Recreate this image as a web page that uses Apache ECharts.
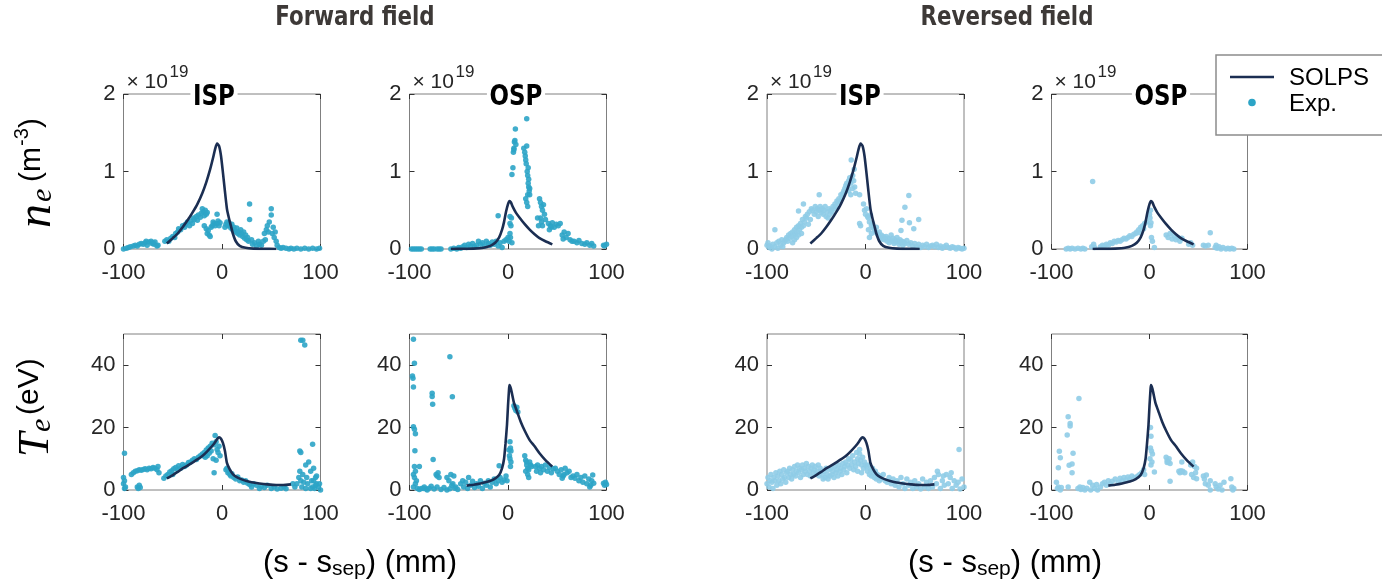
<!DOCTYPE html>
<html><head><meta charset="utf-8">
<script src="https://cdn.jsdelivr.net/npm/echarts@6/dist/echarts.min.js"></script>
<style>html,body{margin:0;padding:0;background:#fff}#c{width:1382px;height:583px}</style>
</head><body><div id="c"></div>
<script>
// ---------- ticks ----------
const xTicks = [-100, 0, 100];
const neTicks = [0, 1, 2];
const teTicks = [0, 20, 40];
const teMax = 50;

// ---------- SOLPS curves (same in both field directions) ----------
const solpsIspNeX = [-56,-50,-45,-40,-35,-30,-25,-20,-16,-12,-9,-7,-5,-3,-1,1,3,5,7,9,11,14,18,24,32,42,55];
const solpsIspNe  = [0.07,0.14,0.2,0.28,0.37,0.47,0.58,0.72,0.86,1.03,1.18,1.29,1.36,1.33,1.2,0.98,0.74,0.52,0.4,0.3,0.2,0.1,0.04,0.015,0.005,0.002,0];
const solpsOspNeX = [-58,-45,-35,-25,-18,-13,-9,-6,-4,-2,0,1.5,3,5,8,12,17,22,27,32,38,45];
const solpsOspNe  = [0,0.002,0.005,0.015,0.04,0.08,0.15,0.25,0.35,0.48,0.58,0.62,0.6,0.54,0.47,0.4,0.32,0.25,0.19,0.14,0.1,0.06];
const solpsIspTeX = [-56,-50,-45,-40,-35,-30,-25,-20,-15,-10,-7,-5,-3,-1,1,3,5,8,11,15,20,25,30,38,46,55,62,70];
const solpsIspTe  = [3.7,4.8,5.8,6.9,7.8,8.8,9.8,10.9,12.4,14.1,15.3,16.3,16.9,16.4,15,12.5,8.7,6.5,5.1,4.1,3.4,2.9,2.5,2.1,1.8,1.6,1.6,1.8];
const solpsOspTeX = [-42,-35,-28,-20,-14,-9,-6,-4,-2.5,-1,0,1,1.5,3,6,9,13,17,22,27,32,38,45];
const solpsOspTe  = [1.4,1.7,2.1,2.7,3.5,4.8,7,10,15,21,27,32,33.6,32.4,28,25.3,21.8,19,16,14,11.8,9.6,7.5];

// ---------- Experimental points: forward field ----------
const ffIspNe = [[-100,0],[-97,0.01],[-95,0.02],[-93,0.03],[-90,0.04],[-88,0.05],[-86,0.04],[-84,0.06],[-82,0.07],[-80,0.06],[-78,0.08],[-77,0.1],[-76,0.05],[-74,0.09],[-72,0.1],[-71,0.07],[-70,0.08],[-69,0.06],[-68,0.09],[-66,0.04],[-65,0.05],
[-58,0.1],[-56,0.12],[-54,0.1],[-52,0.14],[-50,0.16],[-48,0.15],[-47,0.2],[-45,0.22],[-44,0.26],[-42,0.25],[-40,0.3],[-38,0.28],[-37,0.32],[-35,0.35],[-33,0.3],[-32,0.36],[-30,0.33],[-29,0.4],[-28,0.38],[-26,0.42],[-25,0.37],[-24,0.44],[-22,0.41],[-21,0.46],[-20,0.52],[-19,0.48],[-18,0.43],[-17,0.5],[-16,0.45],[-15,0.47],
[-18,0.3],[-16,0.26],[-15,0.2],[-14,0.24],[-13,0.18],[-12,0.16],[-11,0.28],[-10,0.3],[-9,0.35],[-8,0.33],[-7,0.3],[-5,0.45],[-5,0.33],[-4,0.36],[-3,0.3],[-2,0.34],
[3,0.28],[4,0.32],[5,0.35],[6,0.3],[7,0.34],[8,0.3],[9,0.27],[10,0.32],[11,0.25],[12,0.28],[13,0.24],[14,0.22],[15,0.27],[16,0.2],[17,0.22],[18,0.18],[19,0.25],[20,0.2],[21,0.16],[22,0.22],[23,0.14],[24,0.18],[25,0.12],[26,0.15],[27,0.1],[28,0.38],[28,0.58],[30,0.12],[31,0.06],[33,0.08],[35,0.04],[37,0.1],[38,0.06],[40,0.05],[42,0.1],[43,0.2],[44,0.12],[45,0.25],[46,0.3],[47,0.22],[48,0.35],[50,0.44],[50,0.52],[51,0.2],[52,0.28],[53,0.15],[54,0.22],[55,0.1],[56,0.05],[58,0.02],[60,0.01],[62,0.02],[65,0.01],[68,0],[70,0.01],[73,0],[76,0.01],[80,0],[84,0.01],[88,0],[92,0.01],[96,0],[99,0.01]];

const ffIspTe = [[-99,11.8],[-100,4],[-99,3],[-100,2],[-98,1],[-99,0.5],
[-92,5],[-90,5.5],[-88,6],[-86,6.2],[-84,6.5],[-82,6.3],[-80,6.6],[-78,6.8],[-76,6.5],[-74,7],[-72,6.8],[-70,7.2],[-68,7],[-66,6.5],[-65,7.5],[-64,5.5],
[-86,1],[-85,0.5],[-84,1.5],[-83,0.8],
[-59,3.8],[-57,4.5],[-55,5],[-53,5.8],[-51,6.2],[-50,5],[-49,6.8],[-47,7.2],[-45,6.5],[-44,7.8],[-42,7],[-40,8.2],[-38,7.5],[-36,8],[-34,8.8],
[-32,9],[-30,9.5],[-28,10],[-26,9.8],[-24,10.5],[-22,11],[-20,11.5],[-18,12],[-16,12.8],[-14,13.5],[-12,14],[-10,15],[-8,14.5],[-7,17.5],[-6,15.5],[-5,13],[-4,12],[-3,14],[-2,11],[-9,10],[-8,5.5],[-6,9.5],[-11,12.5],[-13,11.8],[-15,11],[-17,10.5],[-19,11],
[4,6.5],[5,7],[6,5.5],[7,6],[8,5],[9,4.5],[10,5.2],[12,4],[14,3.5],[16,4.2],[18,3],[20,3.2],[22,2.5],[24,3],[26,2.2],[28,1.8],[30,1],[32,2],[35,1.5],[38,0.5],[40,1.2],[43,0.8],[46,1.5],[50,0.5],[53,1],[56,0.3],[60,0.6],[63,1],[65,0.4],
[72,2],[74,1],[76,2],[78,4],[79,6],[80,3],[81,1],[82,5],[83,2.5],[79,12.5],[80,12],[85,0.5],[86,4],[87,2],[88,9],[90,6],[91,3],[92,1],[93,7],[94,0.5],[95,4],[96,2],[92,14.7],[98,1],[96,4.5],[100,0],[85,8],[90,0.5],[93,3],[95,1.5],[99,2],
[80,48],[82,48],[84,46.5]];

const ffOspNe = [[-98,0],[-96,0],[-94,0],[-92,0],[-90,0],[-88,0],[-79,0],[-77,0],[-75,0],[-72,0],[-70,0],[-68,0],[-58,0],[-55,0.01],[-52,0],[-50,0.02],[-48,0.01],
[-46,0.03],[-44,0.05],[-42,0.02],[-40,0.06],[-38,0.04],[-36,0.07],[-34,0.03],[-32,0.05],[-30,0.1],[-28,0.06],[-26,0.08],[-24,0.04],[-22,0.1],[-20,0.07],[-18,0.05],[-16,0.09],[-14,0.06],[-12,0.1],[-10,0.04],[-8,0.08],[-6,0.02],[-4,0.1],[-2,0.12],[0,0.15],[-10,0.43],
[1,0.1],[2,0.2],[3,0.3],[3.5,0.4],[2.5,0.15],[4,0.08],[2,0.42],[2,0.33],
[4,0.96],[5,1.05],[5.5,1.25],[6,1.3],[6.5,1.38],[7,1.4],[7.5,1.55],[8,1.35],[6,1.28],
[19,1.68],[16,1.3],[17,1.25],[17.5,1.2],[18,1.15],[18.5,1.1],[19,1.33],[19.5,1.0],[20,0.95],[20.5,0.85],[21,0.8],[21.5,0.75],[22,0.7],[18,0.65],[19,0.6],[20,0.55],[20.5,1.05],[21,0.9],[22,0.78],[20,0.7],
[32,0.65],[33,0.6],[34,0.55],[35,0.5],[36,0.57],[37,0.45],[33,0.4],[34,0.35],[35,0.3],[38,0.38],[30,0.4],[31,0.3],
[41,0.33],[43,0.3],[45,0.34],[47,0.28],[49,0.32],[51,0.3],[53,0.33],[42,0.25],[44,0.28],
[55,0.18],[57,0.22],[59,0.15],[61,0.2],[63,0.12],[65,0.1],[56,0.13],
[67,0.1],[70,0.08],[72,0.11],[75,0.07],[78,0.06],[80,0.08],[83,0.05],[85,0.07],[87,0.04],[97,0.05],[98,0.04],[100,0.06]];

const ffOspTe = [[-96,48.3],[-95,40.6],[-97,36.5],[-96.5,35.8],[-96,33],[-96,20.3],[-95,19.5],[-94,18],[-94.5,12.6],
[-95,7.5],[-94,6],[-96,5],[-95,4],[-93,3],[-94,2],[-96,1],[-92,0.5],[-90,7.5],[-88,0.5],[-85,1],[-83,0.3],[-80,0.6],[-78,1.2],
[-77,31],[-77,30],[-76.5,27.5],[-76,9.8],[-59,42.7],[-56.5,29.9],
[-73,5],[-72,4.5],[-71,5.5],[-70,4],[-62,4],[-60,3],[-58,5],[-56,2],[-55,4.5],[-53,1],
[-90,0.2],[-86,0.5],[-82,0],[-75,0.3],[-72,1],[-68,0.2],[-65,0.8],[-62,0],[-59,0.4],[-57,1.5],[-54,0.6],[-51,0.2],
[-48,2],[-46,3],[-45,1],[-43,2.5],[-41,0.5],[-40,4],[-38,1.5],[-36,2.8],[-34,0.8],[-32,2],[-30,1.2],[-28,3],[-26,0.5],[-24,2.2],[-22,1.5],[-20,3],[-18,1],[-16,2.5],[-14,3.5],[-12,2],[-10,3],[-8,4],[-6,2.5],[-4,3.2],[-2,4.5],[-1,3],[-9,7.8],
[2,15.5],[2.5,13.5],[3,12.5],[1.5,11],[2,10],[3,9],[2.5,7.5],[1,12.8],
[6,27],[7,26.2],[8,25.5],[9,26.5],[10,25],
[17,11],[18,9.5],[19,8],[20,7],[21,6.5],[22,9],[23,8],[24,7.5],[18,6],[20,5],[21,4],[19,9],
[28,7.5],[30,8],[32,7],[34,7.5],[36,6.5],[38,8],[40,6],[42,7.2],[44,5.5],[46,6.8],[29,6],[33,5.5],
[48,7],[50,6],[52,5],[54,6.5],[56,4.5],[58,7],[60,5.5],[62,6],[64,4],[55,3.8],[57,5],
[66,4.5],[68,3.8],[70,5],[72,3],[74,4],[76,2.5],[78,4.5],[80,2],[82,3.5],[84,1.5],[86,4.8],[83,1],[85,3],[87,2.2],
[97,2.2],[98,1.5],[99,2.5],[100,1.8]];

// ---------- Experimental points: reversed field ----------
const rfIspNe = [[-100,0.05],[-99,0.08],[-98,0.02],[-97,0.04],[-95,0],[-94,0.06],[-92,0.03],[-90,0.08],[-89,0.01],[-88,0.1],[-86,0.05],[-85,0.12],[-84,0.03],[-83,0.08],[-82,0.1],[-92,0.25],
[-81,0.12],[-80,0.15],[-79,0.1],[-78,0.18],[-77,0.14],[-76,0.2],[-75,0.16],[-74,0.22],[-73,0.18],[-72,0.25],[-71,0.2],[-70,0.28],[-69,0.22],[-68,0.3],[-67,0.25],[-66,0.33],[-65,0.28],[-64,0.38],[-63,0.3],[-62,0.35],[-61,0.42],[-60,0.4],[-59,0.45],[-58,0.32],[-57,0.48],[-56,0.38],[-55,0.52],[-74,0.08],[-72,0.12],[-70,0.15],[-68,0.18],[-65,0.2],[-63,0.58],[-68,0.49],
[-54,0.5],[-52,0.45],[-51,0.55],[-50,0.48],[-49,0.52],[-48,0.42],[-47,0.5],[-46,0.55],[-45,0.47],[-44,0.52],[-43,0.45],[-42,0.5],[-41,0.55],[-40,0.42],[-39,0.48],[-38,0.4],[-37,0.52],[-36,0.45],[-35,0.5],[-47,0.7],
[-34,0.48],[-33,0.55],[-32,0.52],[-31,0.58],[-30,0.55],[-29,0.62],[-28,0.6],[-27,0.65],[-26,0.62],[-25,0.7],[-24,0.67],[-23,0.72],[-22,0.75],[-21,0.78],[-20,0.82],[-19,0.85],[-18,0.8],[-17,0.88],[-16,0.92],[-15,0.85],[-14,0.9],[-13,0.95],[-12,0.88],[-11,0.8],[-10,0.72],[-17,0.75],[-15,0.7],[-13,0.78],[-14.5,1.15],[-11.5,1.03],
[-6,0.7],[-6,0.33],[-5,0.3],
[-2,0.58],[-1,0.5],[0,0.45],[1,0.52],[2,0.42],[3,0.4],[4,0.35],[5,0.44],[6,0.3],[7,0.33],[8,0.27],[9,0.25],[10,0.22],[11,0.28],[12,0.2],[13,0.18],[14,0.22],[15,0.15],[16,0.18],[17,0.13],[18,0.16],[19,0.12],[20,0.14],[4,0.15],[6,0.2],[3,0.25],
[21,0.16],[22,0.1],[23,0.14],[24,0.08],[25,0.12],[26,0.18],[27,0.1],[28,0.14],[29,0.07],[30,0.12],[31,0.09],[32,0.15],[33,0.1],[34,0.06],[35,0.12],[36,0.08],[37,0.1],[38,0.05],[39,0.09],[40,0.07],[42,0.11],[44,0.06],[46,0.08],[48,0.04],[50,0.07],[52,0.03],[54,0.06],[56,0.02],[58,0.05],[60,0.03],[62,0.06],[64,0.02],[66,0.04],
[44,0.69],[40,0.54],[44.6,0.34],[37,0.37],[54,0.38],[36,0.24],[49,0.26],
[68,0.05],[70,0.03],[72,0.06],[74,0.02],[76,0.04],[78,0.01],[80,0.03],[82,0.05],[84,0.02],[86,0.01],[88,0.03],[90,0.02],[92,0],[94,0.02],[96,0.01],[98,0],[100,0.01]];

const rfIspTe = [[-100,2],[-99,4],[-98,1],[-97,3],[-96,5],[-95,2.5],[-94,0.5],[-93,4],[-92,3],[-91,5.5],[-90,1.5],[-89,4.5],[-88,3],[-87,6],[-86,2],[-85,5],[-84,3.5],[-83,6.5],[-82,4],[-81,2.5],[-80,5.5],
[-79,6],[-78,4],[-77,7],[-76,5],[-75,3.5],[-74,6.5],[-73,5],[-72,7.5],[-71,4.5],[-70,6],[-69,8],[-68,5.5],[-67,7],[-66,4],[-65,6.5],[-64,8],[-63,5],[-62,7],[-61,6],[-60,8.5],[-59,5],[-58,7.5],[-57,6],[-56,4.5],[-55,7],[-54,8],[-53,5.5],[-52,6.5],[-51,7.5],[-50,5],[-49,6],[-48,8],[-47,4.5],[-46,7],[-45,6],
[-44,5],[-43,3.5],[-42,6],[-41,4],[-40,7],[-39,5],[-38,3.5],[-37,6.5],[-36,4.5],[-35,7],[-34,5],[-33,6],[-32,4],[-31,7.5],[-30,5.5],[-29,6.5],[-28,4.5],[-27,8],[-26,6],[-25,7],[-24,5],[-23,8.5],[-22,6.5],[-21,7.5],[-20,9],[-19,5.5],[-18,8],[-17,10],[-16,7],[-15,9.5],[-14,8],[-13,11],[-12,6.5],[-11,9],[-10,7.5],
[-9,12],[-8,10],[-7,8.5],[-6,11.5],[-5,9.5],[-4,8],[-3,10.5],[-2,7],[-1,9],[0,8],[-8,6],[-4,5.5],[-6,13],
[1,7.5],[2,6],[3,8],[4,5],[5,6.5],[6,4.5],[7,7],[8,5.5],[9,4],[10,6],[11,3.5],[12,5],[13,4],[14,3],[15,4.5],[16,3.5],[18,5],[20,3],[22,2.5],[24,4],[26,2],[28,3.5],[30,1.5],
[32,3],[34,1],[36,4],[38,2],[40,0.5],[42,3.5],[44,1.5],[46,2.5],[48,0.5],[50,3],[52,1],[54,2],[56,0.3],[58,3.5],[60,1],[62,2.5],[64,0.5],[66,3],
[68,1],[70,4],[72,2],[74,5],[76,0.5],[78,3],[80,1.5],[82,5],[84,2],[86,4],[88,0.5],[90,3],[92,1.5],[94,2.5],[96,0.3],[98,3.5],[100,1],[73,6],[79,4.5],[87,5.5],[95,13]];

const rfOspNe = [[-58,0.87],[-85,0],[-83,0.01],[-81,0],[-79,0.01],[-76,0],[-73,0.01],[-70,0],[-68,0.01],[-66,0],[-59,0.03],[-57,0.06],[-56,0.02],
[-50,0.03],[-48,0.05],[-46,0.04],[-44,0.06],[-42,0.05],[-40,0.08],[-38,0.07],[-36,0.1],[-34,0.09],[-32,0.11],[-30,0.1],[-28,0.12],[-26,0.14],[-24,0.13],[-22,0.15],[-20,0.17],[-18,0.16],[-16,0.19],[-14,0.2],
[-13,0.22],[-11,0.25],[-9,0.28],[-7,0.3],[-5,0.33],[-3,0.35],[-10,0.21],[-6,0.26],
[0,0.45],[1,0.5],[0.5,0.4],[1.5,0.34],[1,0.3],[2,0.15],[3,0.1],[5,0.02],
[17,0.18],[19,0.15],[21,0.2],[23,0.13],[25,0.17],[27,0.12],[29,0.15],[31,0.1],[33,0.14],
[40,0.06],[42,0.08],[44,0.05],[62,0.21],[55,0.05],[57,0.04],[60,0.05],[68,0.05],
[67,0.02],[69,0.01],[71,0.03],[73,0],[75,0.02],[78,0],[80,0.01],[82,0],[84,0.01],[86,0]];

const rfOspTe = [[-72,29.3],[-83,23.5],[-81,21.3],[-81,20.5],[-84,17.6],[-92,12.4],[-91,10.3],[-93,7.1],[-82,7.9],[-79,8.3],[-78,11.8],[-79,5.5],
[-95,2.5],[-94,0.5],[-93,1],[-91,0],[-90,0.8],[-83,1],[-73,0.5],[-71,1],[-70,0.2],[-68,0.8],[-66,0],[-64,0.6],[-61,2.5],[-60,0],[-58,1.5],[-56,0.5],[-54,1.8],[-53,0],
[-50,1],[-48,2],[-46,2.5],[-44,1.5],[-42,3],[-40,2],[-38,2.8],[-35,3.5],[-32,2.5],[-30,3.8],[-28,3],[-26,4],[-24,3.2],[-22,4.2],[-20,3.5],[-18,4.5],[-15,4],
[-12,4.5],[-10,5],[-8,5.5],[-6,6.5],[-5,5],
[1,20],[1.5,17.2],[1,13.5],[2,12.5],[0.5,10],[2.5,9],[3,11.5],[1.5,8],[5,5.8],
[17,10.5],[18,9.5],[19,9],[20,10],[21,8.5],[18,8.8],[21,2.8],
[30,6],[31,5.5],[32,6.2],[34,6],[36,5.5],[33,5.8],[33,9],
[42,8],[44,9],[46,7.5],[47,5.5],[43,5],[45,4],[48,7],[48,3.6],
[55,4.5],[56,3.5],[58,4.8],[57,2],[60,1.5],[62,3],[62,0],
[67,2],[68,1],[70,0.3],[72,1.5],[74,0],[76,2.5],[83,3.6],[84,1],[86,0.5],[85,0]];

// ---------- styling / layout ----------
const FONT = "'Helvetica Neue', Helvetica, 'Liberation Sans', Arial, sans-serif";
const COND = "'DejaVu Sans Condensed', 'Liberation Sans Narrow', sans-serif";
const SERIF = "'Liberation Serif', 'DejaVu Serif', serif";
const C_FF = '#2ca4c6', C_RF = '#8fcce7', C_SOLPS = '#1b2e52';
const colLeft = [123.5, 409.5, 767, 1051.5];
const colW = [197, 197, 197, 196];
const rowTop = [94, 334], rowH = [155, 156];

const zip = (xs, ys) => xs.map((x, i) => [x, ys[i]]);
const panels = [
  { exp: ffIspNe, solps: zip(solpsIspNeX, solpsIspNe), color: C_FF, row: 0 },
  { exp: ffOspNe, solps: zip(solpsOspNeX, solpsOspNe), color: C_FF, row: 0 },
  { exp: rfIspNe, solps: zip(solpsIspNeX, solpsIspNe), color: C_RF, row: 0 },
  { exp: rfOspNe, solps: zip(solpsOspNeX, solpsOspNe), color: C_RF, row: 0 },
  { exp: ffIspTe, solps: zip(solpsIspTeX, solpsIspTe), color: C_FF, row: 1 },
  { exp: ffOspTe, solps: zip(solpsOspTeX, solpsOspTe), color: C_FF, row: 1 },
  { exp: rfIspTe, solps: zip(solpsIspTeX, solpsIspTe), color: C_RF, row: 1 },
  { exp: rfOspTe, solps: zip(solpsOspTeX, solpsOspTe), color: C_RF, row: 1 }
];

const grid = [], xAxis = [], yAxis = [], series = [];
const tickStyle = { inside: true, length: 5, lineStyle: { color: '#333', width: 1 } };
const noLine = { show: false, onZero: false };
panels.forEach((p, g) => {
  const c = g % 4, r = p.row;
  grid.push({ left: colLeft[c], top: rowTop[r], width: colW[c], height: rowH[r],
    show: true, borderColor: '#808080', borderWidth: 1, backgroundColor: 'transparent' });
  const xBase = { gridIndex: g, type: 'value', min: xTicks[0], max: xTicks[xTicks.length - 1],
    interval: xTicks[1] - xTicks[0], axisLine: noLine, splitLine: { show: false }, axisTick: tickStyle };
  xAxis.push(Object.assign({}, xBase, { position: 'bottom',
    axisLabel: { fontSize: 22, color: '#262626', fontFamily: FONT, margin: 13 } }));
  xAxis.push(Object.assign({}, xBase, { position: 'top', axisLabel: { show: false } }));
  const yt = r === 0 ? neTicks : teTicks;
  const yBase = { gridIndex: g, type: 'value', min: yt[0], max: r === 0 ? yt[yt.length - 1] : teMax,
    interval: yt[1] - yt[0], axisLine: noLine, splitLine: { show: false }, axisTick: tickStyle };
  yAxis.push(Object.assign({}, yBase, { position: 'left',
    axisLabel: { fontSize: 22, color: '#262626', fontFamily: FONT, margin: 8, showMaxLabel: r === 0 } }));
  yAxis.push(Object.assign({}, yBase, { position: 'right', axisLabel: { show: false } }));
  series.push({ type: 'scatter', name: 'Exp.', xAxisIndex: 2 * g, yAxisIndex: 2 * g, data: p.exp,
    symbolSize: 5.5, itemStyle: { color: p.color, opacity: 0.9 }, clip: false, silent: true, z: 2 });
  series.push({ type: 'line', name: 'SOLPS', xAxisIndex: 2 * g, yAxisIndex: 2 * g, data: p.solps,
    showSymbol: false, symbol: 'none', smooth: 0.2, lineStyle: { width: 2.6, color: C_SOLPS }, silent: true, z: 3 });
});

// ---------- text graphics ----------
function txt(x, y, text, o) {
  return { type: 'text', x: x, y: y, z: 50, silent: true,
    style: Object.assign({ text: text, fill: '#262626', fontFamily: FONT, fontSize: 20,
      align: 'center', verticalAlign: 'middle', textAlign: 'center', textVerticalAlign: 'middle' }, o || {}) };
}
function vtxt(x, yStart, text, o) {
  const e = txt(x, yStart, text, Object.assign({ align: 'left', textAlign: 'left' }, o || {}));
  e.rotation = Math.PI / 2;
  return e;
}
const graphic = [];
const t1 = txt(355, 18, 'Forward field', { fontFamily: COND, fontWeight: 'bold', fontSize: 27, fill: '#3d3937' });
const t2 = txt(1007, 18, 'Reversed field', { fontFamily: COND, fontWeight: 'bold', fontSize: 27, fill: '#3d3937' });
t1.scaleX = 0.88; t2.scaleX = 0.88;
graphic.push(t1, t2);
[[214, 'ISP'], [516, 'OSP'], [860, 'ISP'], [1161, 'OSP']].forEach(t => {
  const e = txt(t[0], 97, t[1], { fontFamily: COND, fontWeight: 'bold', fontSize: 29, fill: '#000',
    backgroundColor: '#fff', padding: [0, 3, 0, 3] });
  e.scaleX = 0.88;
  graphic.push(e);
});
colLeft.forEach(l => {
  graphic.push(txt(l + 3, 82, '× 10', { align: 'left', textAlign: 'left', fontSize: 21 }));
  graphic.push(txt(l + 46, 72, '19', { align: 'left', textAlign: 'left', fontSize: 17 }));
});
graphic.push(vtxt(37, 228, 'n', { fontFamily: SERIF, fontStyle: 'italic', fontSize: 48, fill: '#000' }));
graphic.push(vtxt(43, 202, 'e', { fontFamily: SERIF, fontStyle: 'italic', fontSize: 30, fill: '#000' }));
graphic.push(vtxt(32, 182, '(m', { fontSize: 30, fill: '#000' }));
graphic.push(vtxt(22, 146, '-3', { fontSize: 20, fill: '#000' }));
graphic.push(vtxt(32, 128, ')', { fontSize: 30, fill: '#000' }));
graphic.push(vtxt(36, 457, 'T', { fontFamily: SERIF, fontStyle: 'italic', fontSize: 44, fill: '#000' }));
graphic.push(vtxt(42.5, 432, 'e', { fontFamily: SERIF, fontStyle: 'italic', fontSize: 30, fill: '#000' }));
graphic.push(vtxt(30, 415, '(eV)', { fontSize: 30, fill: '#000' }));
[360, 1005].forEach(cx => {
  graphic.push(txt(cx, 563, '{m|(s - s}{s|sep}{m|) (mm)}', { fill: '#000', rich: {
    m: { fontSize: 31, fontFamily: FONT, fill: '#000' },
    s: { fontSize: 21, fontFamily: FONT, fill: '#000', padding: [13, 0, 0, 0] } } }));
});
graphic.push({ type: 'rect', z: 60, silent: true, shape: { x: 1216, y: 55, width: 180, height: 80 },
  style: { fill: '#fff', stroke: '#8c8c8c', lineWidth: 1.5 } });
graphic.push({ type: 'line', z: 61, silent: true, shape: { x1: 1230, y1: 77, x2: 1274, y2: 77 },
  style: { stroke: C_SOLPS, lineWidth: 2.6 } });
graphic.push({ type: 'circle', z: 61, silent: true, shape: { cx: 1252, cy: 102.5, r: 3.8 },
  style: { fill: C_FF } });
const lg1 = txt(1289, 78, 'SOLPS', { align: 'left', textAlign: 'left', fontSize: 24, fill: '#000' }); lg1.z = 62;
const lg2 = txt(1289, 104, 'Exp.', { align: 'left', textAlign: 'left', fontSize: 24, fill: '#000' }); lg2.z = 62;
graphic.push(lg1, lg2);

const chart = echarts.init(document.getElementById('c'), null, { renderer: 'canvas' });
chart.setOption({ animation: false, backgroundColor: '#fff', grid, xAxis, yAxis, series, graphic });
</script></body></html>
